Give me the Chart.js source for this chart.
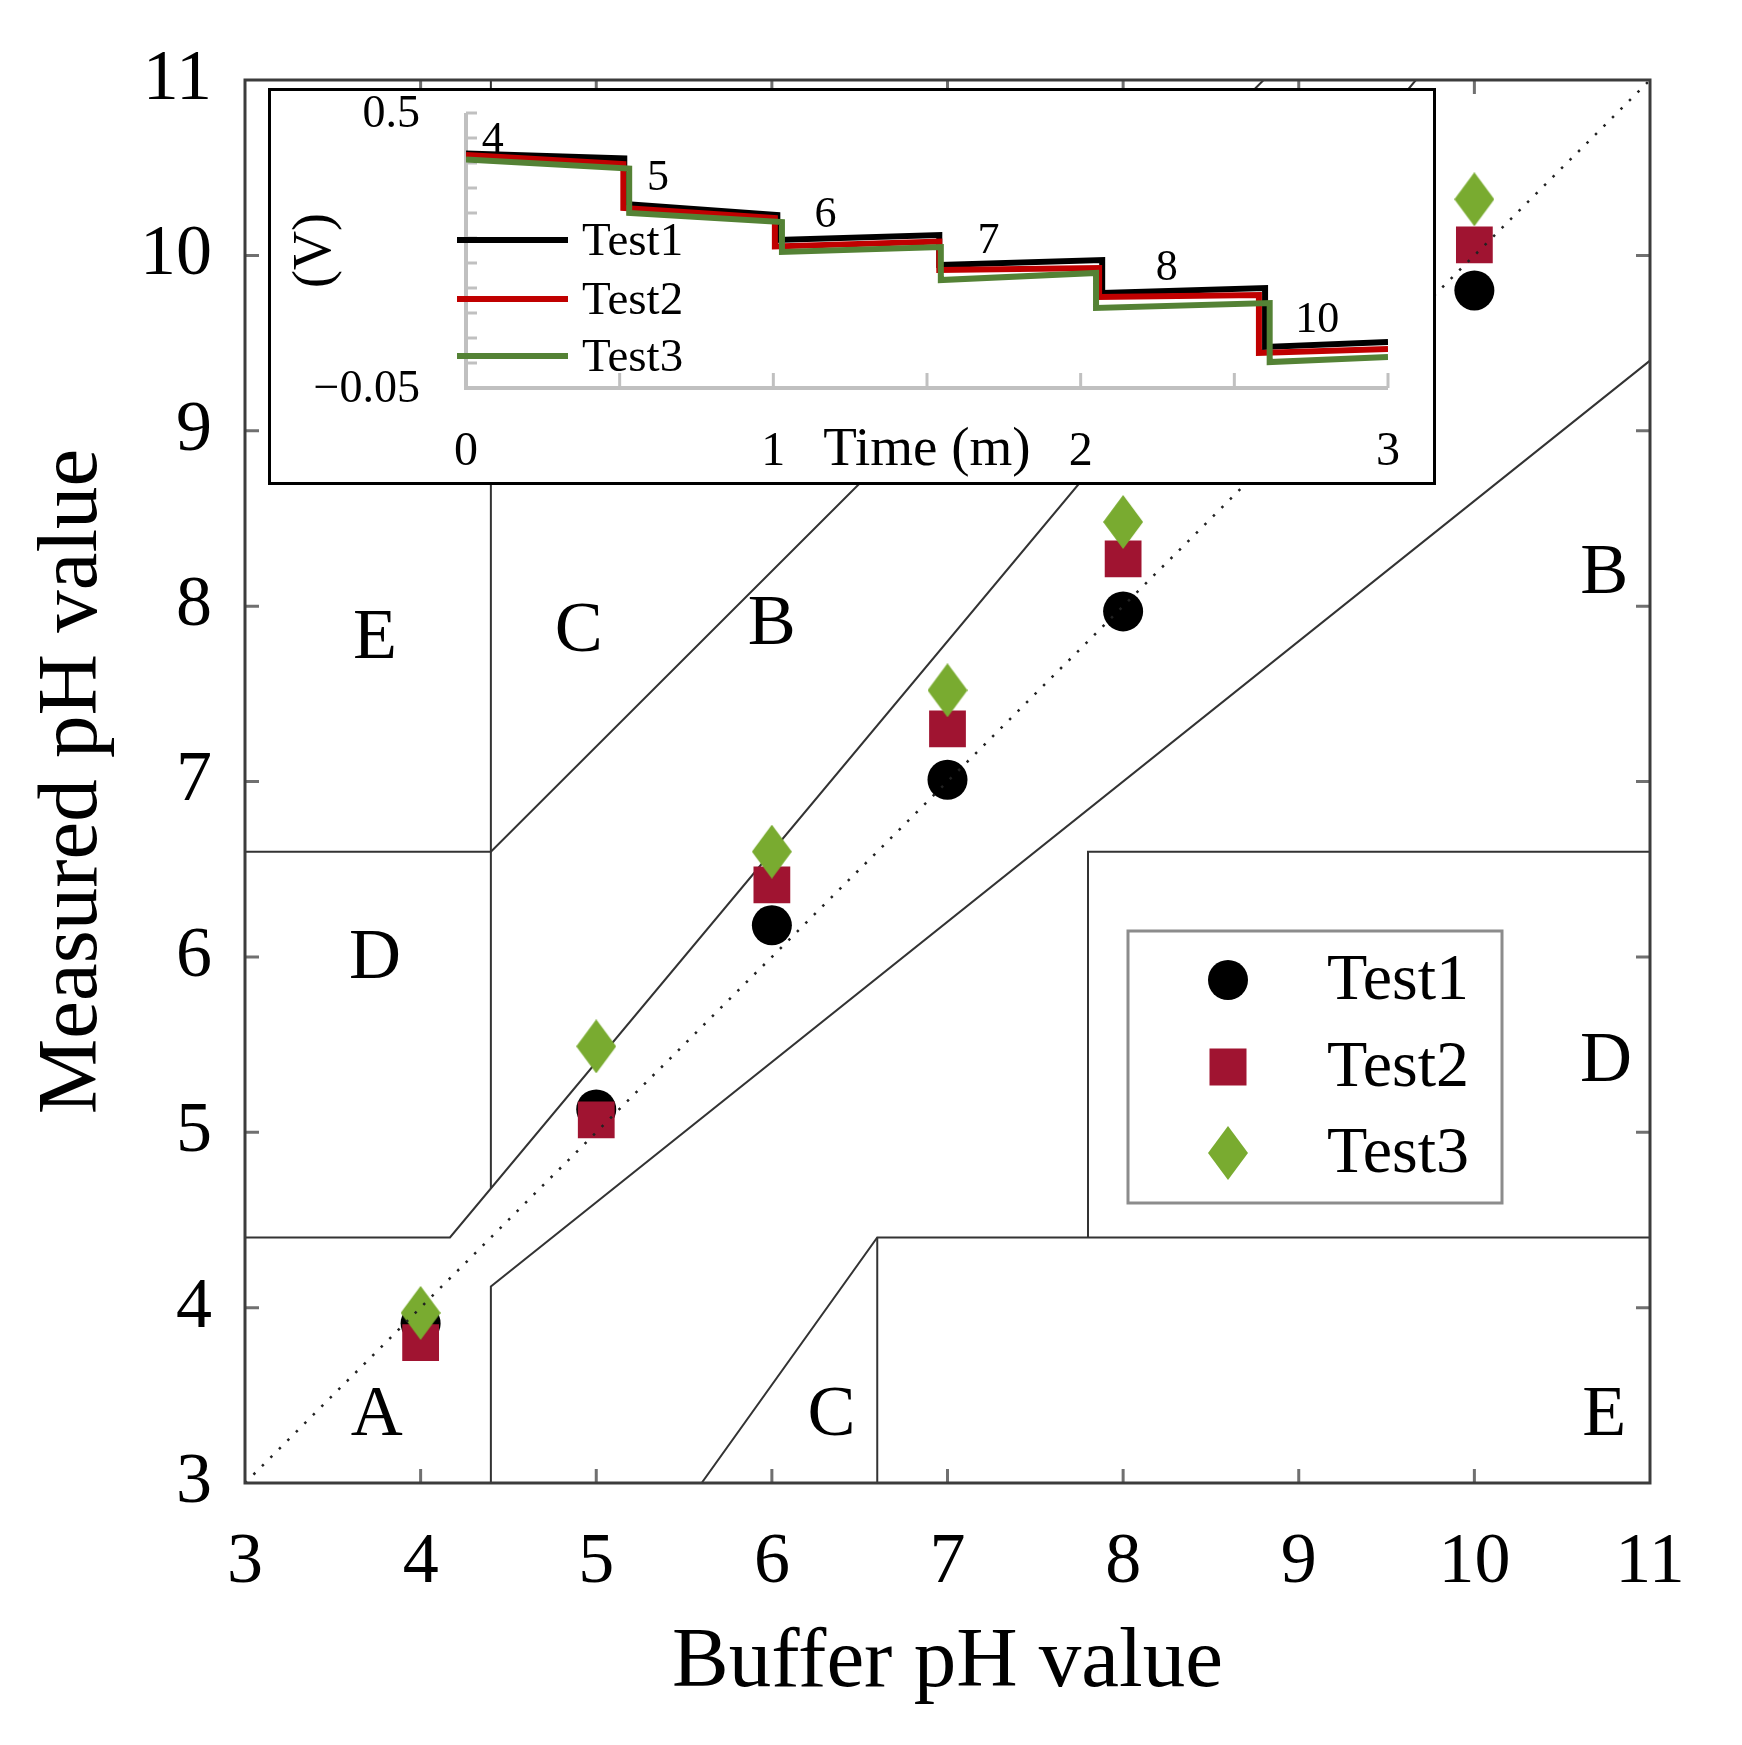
<!DOCTYPE html>
<html>
<head>
    <meta charset="utf-8"/>
    <title>Measured vs buffer pH</title>
    <script src="https://cdn.jsdelivr.net/npm/chart.js"></script>
    <style>
        body { margin: 0; background: #fff; }
        #wrap { position: relative; width: 1742px; height: 1745px; }
        #main { position: absolute; left: 0; top: 0; }
        #inset { position: absolute; left: 268px; top: 88px; }
    </style>
</head>
<body>
<div id="wrap">
    <canvas id="main" width="1742" height="1745"></canvas>
    <canvas id="inset" width="1168" height="397"></canvas>
</div>

<script>
    const serif = "'Liberation Serif', 'Times New Roman', serif";

    // main plot: buffer pH vs measured pH
    const bufferPH = [4, 5, 6, 7, 8, 10];
    const test1PH = [3.91, 5.13, 6.18, 7.01, 7.97, 9.80];
    const test2PH = [3.80, 5.07, 6.41, 7.30, 8.27, 10.06];
    const test3PH = [3.97, 5.49, 6.60, 7.52, 8.48, 10.32];
    const seriesNames = ['Test1', 'Test2', 'Test3'];

    // error grid zone boundaries (polylines, pH units)
    const zoneSegX = [
        [3, 4.167, 9.667],
        [4.4, 4.4, 11],
        [3, 4.4, 8.8],
        [4.4, 4.4],
        [5.6, 6.6, 11],
        [6.6, 6.6],
        [7.8, 7.8, 11]
    ];
    const zoneSegY = [
        [4.4, 4.4, 11],
        [3, 4.12, 9.4],
        [6.6, 6.6, 11],
        [4.68, 11],
        [3, 4.4, 4.4],
        [3, 4.4],
        [4.4, 6.6, 6.6]
    ];
    const zoneLetters = ['E', 'C', 'B', 'B', 'D', 'D', 'A', 'C', 'E'];
    const zoneLetterX = [3.74, 4.90, 6.00, 10.74, 3.74, 10.75, 3.75, 6.34, 10.74];
    const zoneLetterY = [7.81, 7.85, 7.89, 8.18, 5.99, 5.40, 3.38, 3.38, 3.38];

    // inset: voltage steps over time
    const t1 = [0, 0.515, 0.515, 1.013, 1.013, 1.54, 1.54, 2.07, 2.07, 2.60, 2.60, 3.0];
    const v1 = [0.419, 0.409, 0.318, 0.296, 0.246, 0.256, 0.196, 0.206, 0.140, 0.150, 0.032, 0.042];
    const t2 = [0, 0.512, 0.512, 1.005, 1.005, 1.54, 1.54, 2.06, 2.06, 2.58, 2.58, 3.0];
    const v2 = [0.416, 0.398, 0.310, 0.290, 0.233, 0.243, 0.186, 0.190, 0.132, 0.136, 0.020, 0.028];
    const t3 = [0, 0.531, 0.531, 1.028, 1.028, 1.545, 1.545, 2.05, 2.05, 2.615, 2.615, 3.0];
    const v3 = [0.407, 0.389, 0.300, 0.282, 0.222, 0.232, 0.166, 0.180, 0.110, 0.120, 0.002, 0.012];
    const stepLabels = ['4', '5', '6', '7', '8', '10'];
    const stepLabelT = [0.087, 0.625, 1.17, 1.70, 2.28, 2.77];
    const stepLabelV = [0.446, 0.370, 0.296, 0.243, 0.190, 0.086];

    const pts = (xs, ys) => xs.map((x, i) => ({x: x, y: ys[i]}));

    // tall green diamond marker
    function makeDiamond(w, h, color) {
        const c = document.createElement('canvas');
        c.width = w; c.height = h;
        const g = c.getContext('2d');
        g.fillStyle = color;
        g.beginPath();
        g.moveTo(w / 2, 0); g.lineTo(w, h / 2); g.lineTo(w / 2, h); g.lineTo(0, h / 2);
        g.closePath();
        g.fill();
        return c;
    }
    const diamond = makeDiamond(40, 54, '#79ab30');

    const markerStyles = [
        {pointStyle: 'circle', pointRadius: 20, backgroundColor: '#000'},
        {pointStyle: 'rect', pointRadius: 26, backgroundColor: '#a01431'},
        {pointStyle: diamond, pointRadius: 20, backgroundColor: '#79ab30'}
    ];

    const mainDecor = {
        id: 'mainDecor',
        afterDatasetsDraw(chart) {
            const {ctx, chartArea: a, scales: {x, y}} = chart;
            ctx.save();
            // inward ticks on all four sides
            ctx.strokeStyle = '#707070';
            ctx.lineWidth = 3;
            x.ticks.map(t => t.value).filter(v => v > 3 && v < 11).forEach(v => {
                const px = x.getPixelForValue(v);
                ctx.beginPath();
                ctx.moveTo(px, a.bottom); ctx.lineTo(px, a.bottom - 14);
                ctx.moveTo(px, a.top); ctx.lineTo(px, a.top + 14);
                ctx.stroke();
            });
            y.ticks.map(t => t.value).filter(v => v > 3 && v < 11).forEach(v => {
                const py = y.getPixelForValue(v);
                ctx.beginPath();
                ctx.moveTo(a.left, py); ctx.lineTo(a.left + 14, py);
                ctx.moveTo(a.right, py); ctx.lineTo(a.right - 14, py);
                ctx.stroke();
            });
            ctx.strokeStyle = '#3c3c3c';
            ctx.lineWidth = 3;
            ctx.strokeRect(a.left, a.top, a.right - a.left, a.bottom - a.top);

            // zone letters
            ctx.fillStyle = '#000';
            ctx.font = '72px ' + serif;
            ctx.textAlign = 'center';
            ctx.textBaseline = 'middle';
            zoneLetters.forEach((s, i) => {
                ctx.fillText(s, x.getPixelForValue(zoneLetterX[i]), y.getPixelForValue(zoneLetterY[i]));
            });

            // legend box
            const bx = a.right - 522, by = a.bottom - 552, bw = 374, bh = 272;
            ctx.fillStyle = '#fff';
            ctx.fillRect(bx, by, bw, bh);
            ctx.strokeStyle = '#8c8c8c';
            ctx.lineWidth = 3;
            ctx.strokeRect(bx, by, bw, bh);
            const rows = [49, 136, 222];
            ctx.font = '66px ' + serif;
            ctx.textAlign = 'left';
            rows.forEach((ry, i) => {
                const cx = bx + 100, cy = by + ry;
                ctx.fillStyle = markerStyles[i].backgroundColor;
                if (i === 0) {
                    ctx.beginPath(); ctx.arc(cx, cy, 20, 0, Math.PI * 2); ctx.fill();
                } else if (i === 1) {
                    ctx.fillRect(cx - 18.5, cy - 18.5, 37, 37);
                } else {
                    ctx.drawImage(diamond, cx - 20, cy - 27);
                }
                ctx.fillStyle = '#000';
                ctx.fillText(seriesNames[i], bx + 199, cy + 2);
            });
            ctx.restore();
        }
    };

    const zoneSets = zoneSegX.map((xs, i) => ({
        data: pts(xs, zoneSegY[i]),
        showLine: true,
        pointRadius: 0,
        borderColor: '#333',
        borderWidth: 2,
        order: 6
    }));

    const markerSets = [test1PH, test2PH, test3PH].map((ys, i) => Object.assign({
        label: seriesNames[i],
        data: pts(bufferPH, ys),
        borderWidth: 0,
        pointBorderWidth: 0,
        showLine: false,
        order: 5 - i
    }, markerStyles[i]));

    const identity = {
        data: pts([3, 11], [3, 11]),
        showLine: true,
        pointRadius: 0,
        borderColor: '#222',
        borderWidth: 2.5,
        borderDash: [2.5, 9.5],
        order: 1
    };

    new Chart(document.getElementById('main'), {
        type: 'scatter',
        data: {datasets: zoneSets.concat(markerSets, [identity])},
        options: {
            responsive: false,
            animation: false,
            layout: {padding: {left: 0, right: 92, top: 80, bottom: 0}},
            plugins: {legend: {display: false}, tooltip: {enabled: false}},
            scales: {
                x: {
                    type: 'linear', min: 3, max: 11,
                    ticks: {stepSize: 1, autoSkip: false, maxRotation: 0, padding: 37, color: '#000',
                        font: {family: serif, size: 72}},
                    grid: {display: false, drawTicks: false},
                    border: {display: false},
                    title: {display: true, text: 'Buffer pH value', color: '#000',
                        font: {family: serif, size: 85}, padding: {top: 0, bottom: 30}},
                    afterFit(s) { s.height = 262; }
                },
                y: {
                    type: 'linear', min: 3, max: 11,
                    ticks: {stepSize: 1, autoSkip: false, padding: 33, color: '#000',
                        font: {family: serif, size: 72}},
                    grid: {display: false, drawTicks: false},
                    border: {display: false},
                    title: {display: true, text: 'Measured pH value', color: '#000',
                        font: {family: serif, size: 85}, padding: {top: 23, bottom: 0}},
                    afterFit(s) { s.width = 245; }
                }
            }
        },
        plugins: [mainDecor]
    });

    // inset chart
    const lineColors = ['#000000', '#c00000', '#548235'];

    const insetDecor = {
        id: 'insetDecor',
        beforeDraw(chart) {
            const ctx = chart.ctx;
            ctx.save();
            ctx.fillStyle = '#fff';
            ctx.fillRect(0, 0, chart.width, chart.height);
            ctx.restore();
        },
        beforeDatasetsDraw(chart) {
            const {ctx, chartArea: a, scales: {x, y}} = chart;
            ctx.save();
            ctx.strokeStyle = '#c0c0c0';
            ctx.lineWidth = 3;
            y.ticks.forEach(t => {
                const py = y.getPixelForValue(t.value);
                ctx.beginPath(); ctx.moveTo(a.left, py); ctx.lineTo(a.left + 11, py); ctx.stroke();
            });
            x.ticks.forEach(t => {
                const px = x.getPixelForValue(t.value);
                ctx.beginPath(); ctx.moveTo(px, a.bottom); ctx.lineTo(px, a.bottom - 15); ctx.stroke();
            });
            ctx.lineWidth = 4;
            ctx.beginPath();
            ctx.moveTo(a.left, a.top); ctx.lineTo(a.left, a.bottom); ctx.lineTo(a.right, a.bottom);
            ctx.stroke();
            ctx.restore();
        },
        afterDraw(chart) {
            const {ctx, chartArea: a, scales: {x, y}} = chart;
            ctx.save();
            ctx.fillStyle = '#000';
            // end labels of the voltage axis
            ctx.font = '46px ' + serif;
            ctx.textAlign = 'right';
            ctx.textBaseline = 'middle';
            [y.max, y.min].forEach(v => {
                const txt = v < 0 ? '\u2212' + Math.abs(v).toFixed(2) : String(+v.toFixed(2));
                ctx.fillText(txt, a.left - 46, y.getPixelForValue(v) + 2);
            });
            // pH labels on each step
            ctx.font = '44px ' + serif;
            ctx.textAlign = 'center';
            stepLabels.forEach((s, i) => {
                ctx.fillText(s, x.getPixelForValue(stepLabelT[i]), y.getPixelForValue(stepLabelV[i]));
            });
            // legend inside plot
            ctx.font = '47px ' + serif;
            ctx.textAlign = 'left';
            ctx.lineWidth = 6;
            [152, 211, 268].forEach((ly, i) => {
                ctx.strokeStyle = lineColors[i];
                ctx.beginPath(); ctx.moveTo(a.left - 9, ly); ctx.lineTo(a.left + 102, ly); ctx.stroke();
                ctx.fillText(seriesNames[i], a.left + 116, ly + 3);
            });
            ctx.strokeStyle = '#000';
            ctx.lineWidth = 3;
            ctx.strokeRect(1.5, 1.5, chart.width - 3, chart.height - 3);
            ctx.restore();
        }
    };

    new Chart(document.getElementById('inset'), {
        type: 'scatter',
        data: {
            datasets: [[t1, v1], [t2, v2], [t3, v3]].map((s, i) => ({
                label: seriesNames[i],
                data: pts(s[0], s[1]),
                showLine: true,
                pointRadius: 0,
                borderColor: lineColors[i],
                borderWidth: 6,
                borderJoinStyle: 'miter',
                order: 3 - i
            }))
        },
        options: {
            responsive: false,
            animation: false,
            layout: {padding: {left: 0, right: 43, top: 25, bottom: 0}},
            plugins: {legend: {display: false}, tooltip: {enabled: false}},
            scales: {
                x: {
                    type: 'linear', min: 0, max: 3,
                    ticks: {stepSize: 0.5, autoSkip: false, maxRotation: 0, padding: 36, color: '#000',
                        font: {family: serif, size: 48},
                        callback: v => Number.isInteger(v) ? String(v) : ''},
                    grid: {display: false, drawTicks: false},
                    border: {display: false},
                    title: {display: true, text: 'Time (m)', color: '#000',
                        font: {family: serif, size: 55}, padding: {top: 0, bottom: 1}},
                    afterFit(s) { s.height = 97; }
                },
                y: {
                    type: 'linear', min: -0.05, max: 0.5,
                    ticks: {stepSize: 0.05, display: false},
                    grid: {display: false, drawTicks: false},
                    border: {display: false},
                    title: {display: true, text: '(V)', color: '#000',
                        font: {family: serif, size: 54}, padding: {top: 15, bottom: 0}},
                    afterFit(s) { s.width = 198; }
                }
            }
        },
        plugins: [insetDecor]
    });
</script>
</body>
</html>
